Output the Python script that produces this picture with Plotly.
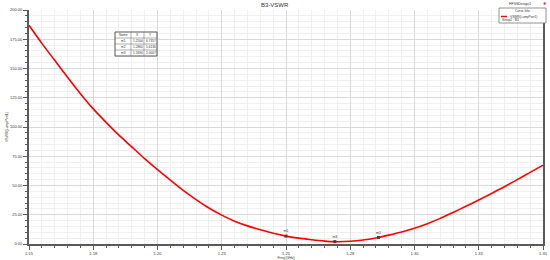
import plotly.graph_objects as go

# ── data (HFSS VSWR sweep) ────────────────────────────────────────────────────
freq_ghz = [1.150, 1.155, 1.160, 1.165, 1.170, 1.175, 1.180, 1.185, 1.190, 1.195,
            1.200, 1.205, 1.210, 1.215, 1.220, 1.225, 1.230, 1.235, 1.240, 1.245,
            1.250, 1.255, 1.260, 1.265, 1.269, 1.275, 1.280, 1.286, 1.290, 1.295,
            1.300, 1.305, 1.310, 1.315, 1.320, 1.325, 1.330, 1.335, 1.340, 1.345,
            1.350]
vswr = [186.9, 171.5, 157.0, 142.5, 128.5, 115.5, 104.0, 93.0, 83.0, 73.0,
        63.6, 54.5, 45.8, 38.0, 30.8, 24.7, 19.5, 15.5, 12.2, 9.2,
        6.74, 5.0, 3.6, 2.5, 2.0, 2.3, 3.4, 5.61, 7.6, 10.3,
        13.5, 17.4, 21.9, 27.0, 32.2, 37.6, 43.2, 49.0, 55.0, 61.2,
        67.4]

marker_names = ["m1", "m2", "m3"]
marker_x = [1.2500, 1.2860, 1.2690]
marker_y = [6.7357, 5.6136, 2.0007]

x_tick_vals = [1.15, 1.175, 1.20, 1.225, 1.25, 1.275, 1.30, 1.325, 1.35]
x_tick_text = ["1.15", "1.18", "1.20", "1.23", "1.25", "1.28", "1.30", "1.33", "1.35"]
y_tick_vals = [0, 25, 50, 75, 100, 125, 150, 175, 200]

FONT = "Liberation Sans, Arial, sans-serif"
AXIS_COL = "#5a5a5a"
TXT = "#333333"

# plot area in pixels (used only to place the overlay boxes)
L, R, T, B = 29, 543, 10, 244


def px(x):
    return (x - L) / (R - L)


def py(y):
    return (B - y) / (B - T)


fig = go.Figure()

fig.add_trace(go.Scatter(
    x=freq_ghz, y=vswr, mode="lines",
    line=dict(color="#ff0000", width=1.6, shape="spline", smoothing=0.6),
    showlegend=False, hoverinfo="skip",
))

fig.add_trace(go.Scatter(
    x=marker_x, y=marker_y, mode="markers+text",
    marker=dict(symbol="square", size=3, color="#404040"),
    text=marker_names, textposition="top center",
    textfont=dict(size=3.5, color=TXT, family=FONT),
    showlegend=False, hoverinfo="skip",
))

fig.update_layout(
    width=550, height=260,
    margin=dict(l=L, r=550 - R, t=T, b=260 - B),
    paper_bgcolor="white", plot_bgcolor="white",
    font=dict(family=FONT, size=5, color=TXT),
    xaxis=dict(
        range=[1.15, 1.35], tickvals=x_tick_vals, ticktext=x_tick_text,
        showline=True, linecolor=AXIS_COL, linewidth=2,
        ticks="outside", ticklen=4, tickcolor=AXIS_COL,
        showgrid=True, gridcolor="#d9d9d9", gridwidth=1,
        minor=dict(dtick=0.005, tick0=1.15, ticks="outside", ticklen=2,
                   tickcolor=AXIS_COL, showgrid=True, gridcolor="#efefef"),
        tickfont=dict(size=4), zeroline=False, automargin=False,
        title=dict(text="Freq [GHz]", font=dict(size=3.5), standoff=1),
    ),
    yaxis=dict(
        range=[0, 200], tickvals=y_tick_vals, tickformat=".2f",
        showline=True, linecolor=AXIS_COL, linewidth=2, mirror=True,
        ticks="outside", ticklen=4, tickcolor=AXIS_COL,
        showgrid=True, gridcolor="#d9d9d9", gridwidth=1,
        minor=dict(dtick=5, tick0=0, ticks="outside", ticklen=2,
                   tickcolor=AXIS_COL, showgrid=True, gridcolor="#efefef"),
        tickfont=dict(size=4), zeroline=False, automargin=False,
        title=dict(text="VSWR(LumpPort1)", font=dict(size=3.5), standoff=2),
    ),
    showlegend=False,
)


def note(text, x, y, size=3.5, color=TXT, xanchor="center"):
    fig.add_annotation(text=text, x=px(x), y=py(y), xref="paper", yref="paper",
                       xanchor=xanchor, yanchor="middle", showarrow=False,
                       font=dict(size=size, color=color, family=FONT))


# title and design name
note("B3-VSWR", 275, 4.5, size=6)
note("HFSSDesign1", 533, 4, xanchor="right")
note("✱", 545, 3.5, size=4, color="#e03030")

# curve info box (legend), top right
fig.add_shape(type="rect", xref="paper", yref="paper",
              x0=px(499), x1=px(546), y0=py(23), y1=py(8),
              line=dict(color="#777", width=0.8), fillcolor="white")
fig.add_shape(type="line", xref="paper", yref="paper",
              x0=px(501), x1=px(507), y0=py(16.5), y1=py(16.5),
              line=dict(color="#ff0000", width=1.5))
note("Curve Info", 522, 11.5, size=3.2)
note("VSWR(LumpPort1)", 508, 16.5, size=3.2, xanchor="left")
note("Setup2 : B3", 500, 20.5, size=3.2, xanchor="left")

# marker table, top left
col_edges = [115, 131, 144, 157]
row_edges = [32, 38, 44, 50, 56]
fig.add_shape(type="rect", xref="paper", yref="paper",
              x0=px(col_edges[0]), x1=px(col_edges[-1]),
              y0=py(row_edges[-1]), y1=py(row_edges[0]),
              line=dict(color="#555", width=1), fillcolor="white")
for cx in col_edges[1:-1]:
    fig.add_shape(type="line", xref="paper", yref="paper",
                  x0=px(cx), x1=px(cx), y0=py(row_edges[-1]), y1=py(row_edges[0]),
                  line=dict(color="#777", width=0.6))
for ry in row_edges[1:-1]:
    fig.add_shape(type="line", xref="paper", yref="paper",
                  x0=px(col_edges[0]), x1=px(col_edges[-1]), y0=py(ry), y1=py(ry),
                  line=dict(color="#777", width=0.6))

rows = [["Name", "X", "Y"]] + [
    [n, f"{x:.4f}", f"{y:.4f}"] for n, x, y in zip(marker_names, marker_x, marker_y)
]
for r, row in enumerate(rows):
    yc = (row_edges[r] + row_edges[r + 1]) / 2
    for c, val in enumerate(row):
        xc = (col_edges[c] + col_edges[c + 1]) / 2
        note(val, xc, yc, size=3.2)

# the page's default 8px body margin would push the chart off its 550x260 frame
fig.write_html("out.html", config={"displayModeBar": False},
               post_script="document.body.style.margin='0';")
